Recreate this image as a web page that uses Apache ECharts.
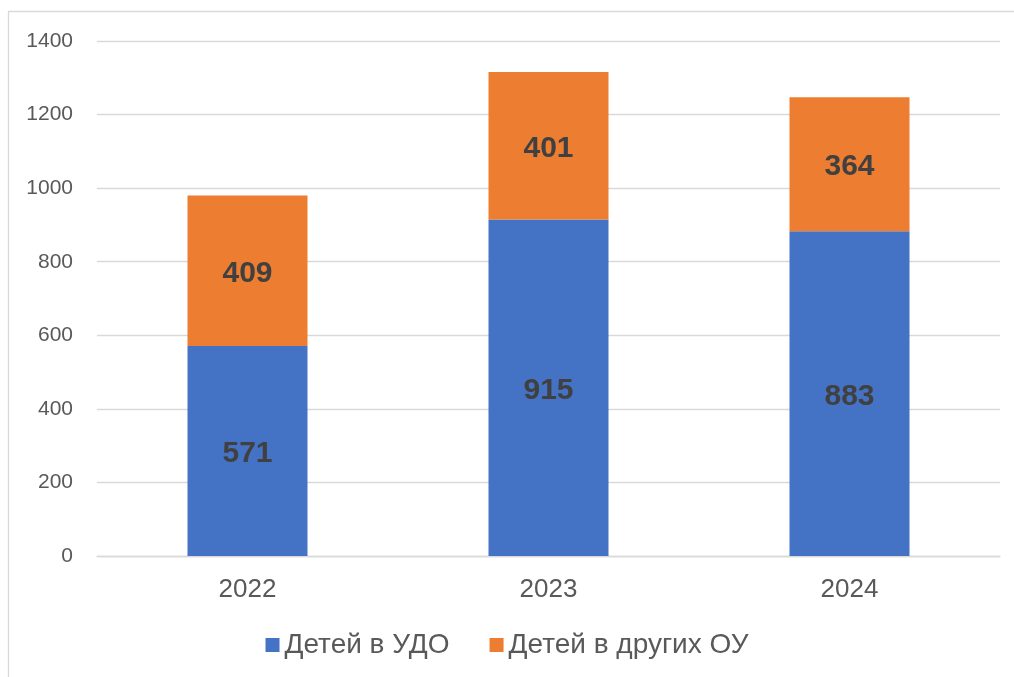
<!DOCTYPE html>
<html>
<head>
<meta charset="utf-8">
<script src="https://cdn.jsdelivr.net/npm/echarts@6/dist/echarts.min.js"></script>
<style>
html,body{margin:0;padding:0;background:#fff;}
#c{width:1014px;height:677px;}
</style>
</head>
<body>
<div id="c"></div>
<script>
const categories = ['2022', '2023', '2024'];
const seriesNames = ['Детей в УДО', 'Детей в других ОУ'];
const udoValues = [571, 915, 883];
const otherValues = [409, 401, 364];
const yTicks = [0, 200, 400, 600, 800, 1000, 1200, 1400];

const chart = echarts.init(document.getElementById('c'), null, {renderer: 'canvas'});
const font = 'Liberation Sans, Arial, sans-serif';
const labelStyle = {show: true, position: 'inside', offset: [0, 3], fontFamily: font, fontSize: 30, fontWeight: 'bold', color: '#404040'};
chart.setOption({
  animation: false,
  backgroundColor: '#fff',
  graphic: [{
    type: 'rect',
    shape: {x: 8.5, y: 11.5, width: 1030, height: 700},
    style: {fill: 'none', stroke: '#D9D9D9', lineWidth: 1.3},
    silent: true, z: -1
  }],
  grid: {left: 97, right: 14, top: 41, bottom: 121, containLabel: false},
  legend: {
    data: seriesNames,
    bottom: 13,
    left: 'center',
    itemWidth: 14,
    itemHeight: 14,
    itemGap: 40,
    icon: 'rect',
    textStyle: {fontFamily: font, fontSize: 28, color: '#595959'}
  },
  xAxis: {
    type: 'category',
    data: categories,
    axisLine: {lineStyle: {color: '#D9D9D9', width: 1.3}},
    axisTick: {show: false},
    axisLabel: {fontFamily: font, fontSize: 26, color: '#595959', margin: 21}
  },
  yAxis: {
    type: 'value',
    min: yTicks[0],
    max: yTicks[yTicks.length - 1],
    interval: 200,
    axisLine: {show: false},
    axisTick: {show: false},
    splitLine: {lineStyle: {color: '#D9D9D9', width: 1.3}},
    axisLabel: {fontFamily: font, fontSize: 21, color: '#595959', margin: 24, formatter: function (v) { return String(v); }}
  },
  series: [
    {
      name: seriesNames[0],
      type: 'bar',
      stack: 'total',
      data: udoValues,
      barWidth: 120,
      itemStyle: {color: '#4472C4'},
      label: labelStyle
    },
    {
      name: seriesNames[1],
      type: 'bar',
      stack: 'total',
      data: otherValues,
      barWidth: 120,
      itemStyle: {color: '#ED7D31'},
      label: labelStyle
    }
  ]
});
</script>
</body>
</html>
